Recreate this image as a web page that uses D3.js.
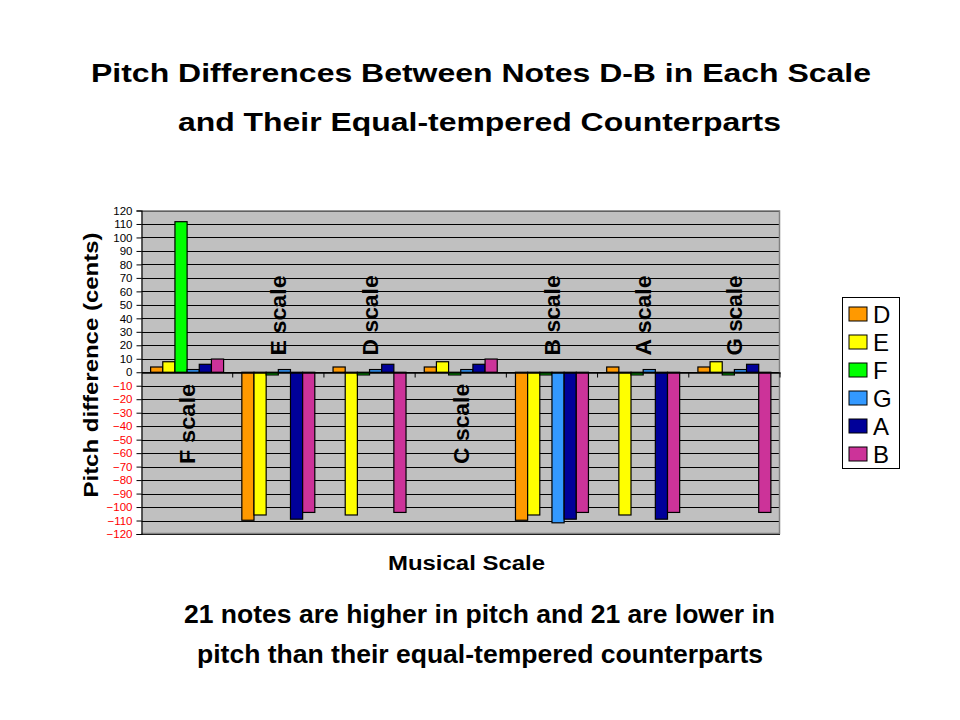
<!DOCTYPE html>
<html>
<head>
<meta charset="utf-8">
<script src="https://cdn.jsdelivr.net/npm/d3@7"></script>
<style>
  body { margin: 0; background: #fff; }
  text { font-family: "Liberation Sans", Arial, sans-serif; }
</style>
</head>
<body>
<div id="chart"></div>
<script>
// Pitch differences (cents) of notes D..B in each scale vs equal temperament
const scales = ["F scale", "E scale", "D scale", "C scale", "B scale", "A scale", "G scale"];
const notes = ["D", "E", "F", "G", "A", "B"];
const noteColors = ["#FF9900", "#FFFF00", "#00FF00", "#3399FF", "#000099", "#CC3399"];

// one array per note, in scale order
const valuesD = [3.9, -109.8, 3.9, 3.9, -109.8, 3.9, 3.9];
const valuesE = [7.8, -105.9, -105.9, 7.8, -105.9, -105.9, 7.8];
const valuesF = [111.7, -2.0, -2.0, -2.0, -2.0, -2.0, -2.0];
const valuesG = [2.0, 2.0, 2.0, 2.0, -111.7, 2.0, 2.0];
const valuesA = [5.9, -109.0, 5.9, 5.9, -109.0, -109.0, 5.9];
const valuesB = [9.8, -104.0, -104.0, 9.8, -104.0, -104.0, -104.0];
const series = [valuesD, valuesE, valuesF, valuesG, valuesA, valuesB];

// where the rotated scale label sits (above or below the zero line)
const labelAbove = [false, true, true, false, true, true, true];

const yTicks = d3.range(-120, 121, 10);

const W = 960, H = 720;
const plot = { left: 141.5, right: 780, top: 210.5, bottom: 534 };

const svg = d3.select("#chart").append("svg")
  .attr("width", W).attr("height", H);

// bold text stretched to the width it has in the picture
function label(x, y, str, size, width) {
  return svg.append("text")
    .attr("x", x).attr("y", y)
    .attr("text-anchor", "middle")
    .attr("textLength", width)
    .attr("lengthAdjust", "spacingAndGlyphs")
    .style("font-size", size + "px").style("font-weight", "bold")
    .text(str);
}

// Titles
label(481, 82, "Pitch Differences Between Notes D-B in Each Scale", 25, 780);
label(479.5, 131, "and Their Equal-tempered Counterparts", 25, 603);

// Scales
const x0 = d3.scaleBand()
  .domain(scales)
  .range([plot.left, plot.right]);

// 6 bars + 1.5 bar-widths of gap per group
const barW = x0.bandwidth() / 7.5;
const barX = (i) => (x0.bandwidth() - 6 * barW) / 2 + i * barW;

const y = d3.scaleLinear()
  .domain([-120, 120])
  .range([plot.bottom, plot.top]);

// Plot background
svg.append("rect")
  .attr("x", plot.left).attr("y", plot.top)
  .attr("width", plot.right - plot.left)
  .attr("height", plot.bottom - plot.top)
  .attr("fill", "#C0C0C0");

// Gridlines
svg.append("g")
  .selectAll("line")
  .data(yTicks)
  .join("line")
  .attr("x1", plot.left).attr("x2", plot.right)
  .attr("y1", d => Math.round(y(d)) + 0.5)
  .attr("y2", d => Math.round(y(d)) + 0.5)
  .attr("stroke", "#000").attr("stroke-width", 1);

// Plot border (right/bottom gray like Excel)
svg.append("path")
  .attr("d", `M${plot.left},${plot.top + 0.5}H${plot.right - 0.5}V${plot.bottom - 0.5}H${plot.left}`)
  .attr("fill", "none").attr("stroke", "#808080").attr("stroke-width", 1.5);

// Y axis
const yAxis = svg.append("g")
  .attr("transform", `translate(${plot.left},0)`)
  .call(d3.axisLeft(y).tickValues(yTicks).tickSize(5).tickPadding(4));
yAxis.select(".domain").attr("stroke", "#000").attr("stroke-width", 1.2);
yAxis.selectAll(".tick line").attr("stroke", "#000");
yAxis.selectAll(".tick text")
  .style("font-size", "11.5px")
  .style("font-family", "'Liberation Sans', Arial, sans-serif")
  .attr("fill", d => d < 0 ? "#FF0000" : "#000");

// Bars
const groups = svg.append("g")
  .selectAll("g")
  .data(scales)
  .join("g")
  .attr("transform", d => `translate(${x0(d)},0)`);

groups.selectAll("rect")
  .data((s, si) => notes.map((n, ni) => ({ note: n, ni, value: series[ni][si] })))
  .join("rect")
  .attr("x", d => barX(d.ni))
  .attr("width", barW)
  .attr("y", d => y(Math.max(0, d.value)))
  .attr("height", d => Math.abs(y(d.value) - y(0)))
  .attr("fill", d => noteColors[d.ni])
  .attr("stroke", "#000").attr("stroke-width", 1.2);

// X axis at zero line with category ticks
const xAxis = svg.append("g")
  .attr("transform", `translate(0,${Math.round(y(0)) + 0.5})`)
  .call(d3.axisBottom(x0).tickSize(0).tickFormat(""));
xAxis.select(".domain").attr("stroke", "#000").attr("stroke-width", 1.5);
xAxis.selectAll(".tick").remove();
xAxis.selectAll("line.cat")
  .data(scales)
  .join("line")
  .attr("class", "cat")
  .attr("x1", d => x0(d) + x0.step())
  .attr("x2", d => x0(d) + x0.step())
  .attr("y1", 0).attr("y2", 5)
  .attr("stroke", "#000");

// Rotated scale labels
svg.append("g")
  .selectAll("text")
  .data(scales)
  .join("text")
  .attr("transform", (d, i) => {
    const cx = x0(d) + x0.bandwidth() / 2 + 8;
    const cy = labelAbove[i] ? y(12.5) : y(-68);
    return `translate(${cx},${cy}) rotate(-90)`;
  })
  .attr("text-anchor", "start")
  .attr("textLength", 80)
  .attr("lengthAdjust", "spacingAndGlyphs")
  .style("font-size", "22px").style("font-weight", "bold")
  .text(d => d);

// Y axis title
svg.append("text")
  .attr("transform", "translate(98,365) rotate(-90)")
  .attr("text-anchor", "middle")
  .attr("textLength", 265)
  .attr("lengthAdjust", "spacingAndGlyphs")
  .style("font-size", "21px").style("font-weight", "bold")
  .text("Pitch difference (cents)");

// X axis title
label(466.5, 570, "Musical Scale", 20, 157);

// Legend
const legend = svg.append("g").attr("transform", "translate(842,297)");
legend.append("rect")
  .attr("x", 0.5).attr("y", 0.5)
  .attr("width", 57).attr("height", 171)
  .attr("fill", "#fff").attr("stroke", "#000");
const item = legend.selectAll("g.item")
  .data(notes)
  .join("g")
  .attr("class", "item")
  .attr("transform", (d, i) => `translate(0,${17 + i * 28})`);
item.append("rect")
  .attr("x", 7).attr("y", -7)
  .attr("width", 18).attr("height", 14)
  .attr("fill", (d, i) => noteColors[i])
  .attr("stroke", "#000");
item.append("text")
  .attr("x", 31).attr("y", 9)
  .style("font-size", "24px")
  .text(d => d);

// Footnote
label(479.5, 623, "21 notes are higher in pitch and 21 are lower in", 25, 591);
label(480, 663, "pitch than their equal-tempered counterparts", 25, 566);
</script>
</body>
</html>
